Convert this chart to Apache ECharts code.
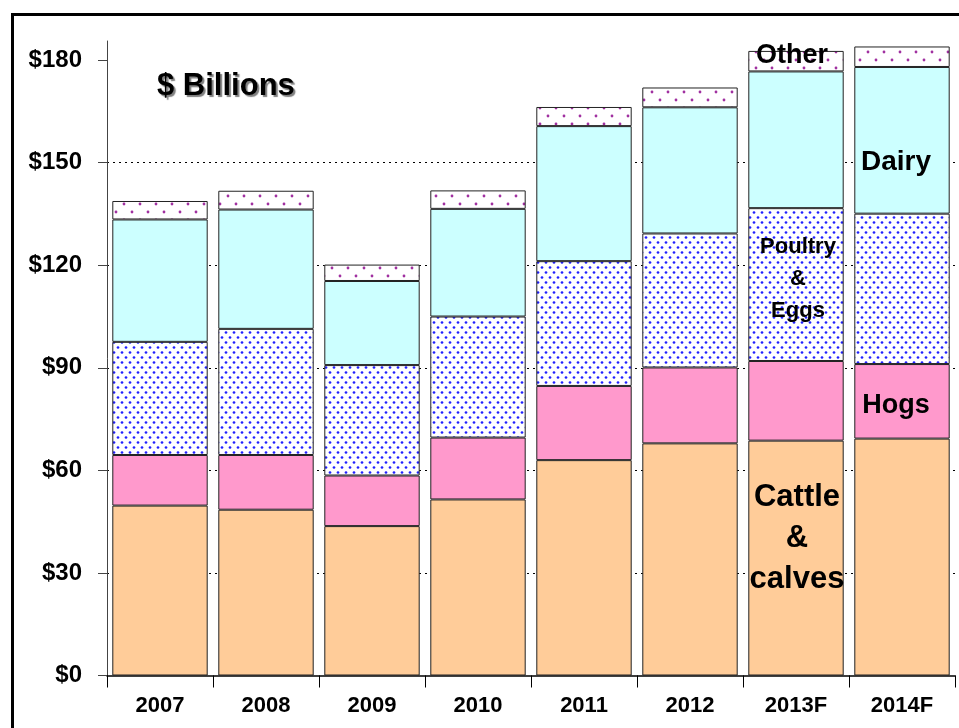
<!DOCTYPE html>
<html>
<head>
<meta charset="utf-8">
<style>html,body{margin:0;padding:0;background:#fff;}#c{width:959px;height:728px;}</style>
<script src="https://cdn.jsdelivr.net/npm/echarts@6/dist/echarts.min.js"></script>
</head>
<body>
<div id="c"></div>
<script>
var categories = ['2007','2008','2009','2010','2011','2012','2013F','2014F'];
var cattle  = [49.7, 48.5, 43.7, 51.5, 63.0, 67.9, 68.7, 69.3];
var hogs    = [14.8, 16.0, 14.8, 18.1, 21.7, 22.2, 23.3, 21.8];
var poultry = [33.1, 36.9, 32.3, 35.4, 36.5, 39.2, 44.7, 44.0];
var dairy   = [35.8, 34.9, 24.6, 31.5, 39.5, 36.9, 40.0, 42.9];
var other   = [5.4, 5.5, 4.8, 5.4, 5.6, 5.8, 6.0, 6.0];
var yTicks  = [0, 30, 60, 90, 120, 150, 180];

var FONT = '"Liberation Sans", Arial, sans-serif';

function dotPattern(w, h, dots, color, r) {
  var cv = document.createElement('canvas');
  cv.width = w; cv.height = h;
  var ctx = cv.getContext('2d');
  ctx.fillStyle = '#fff';
  ctx.fillRect(0, 0, w, h);
  ctx.fillStyle = color;
  dots.forEach(function (d) {
    ctx.beginPath();
    ctx.arc(d[0], d[1], r, 0, Math.PI * 2);
    ctx.fill();
  });
  return { image: cv, repeat: 'repeat' };
}
var poultryFill = dotPattern(8, 10, [[2, 2.5], [6, 7.5]], '#2020ff', 1.35);
var otherFill = dotPattern(16, 16, [[4, 4], [12, 12]], '#a030a0', 1.4);

function withLabel(arr, idx, text, style) {
  return arr.map(function (v, i) {
    if (i !== idx) return v;
    return { value: v, label: Object.assign({ show: true, formatter: text, position: 'inside',
      color: '#000', fontWeight: 'bold', fontFamily: FONT }, style) };
  });
}

var border = { borderColor: '#222', borderWidth: 1 };
var common = { type: 'bar', stack: 'total', barCategoryGap: '10%', clip: false, animation: false };

var chart = echarts.init(document.getElementById('c'), null, { renderer: 'canvas' });
chart.setOption({
  animation: false,
  backgroundColor: '#fff',
  grid: { left: 107, right: 4, top: 41, bottom: 52.5, containLabel: false },
  xAxis: {
    type: 'category',
    data: categories,
    boundaryGap: true,
    axisLine: { lineStyle: { color: '#000', width: 1.5 } },
    axisTick: { show: true, length: 12, lineStyle: { color: '#000' } },
    axisLabel: { color: '#000', fontWeight: 'bold', fontSize: 22, fontFamily: FONT, margin: 19 }
  },
  yAxis: {
    type: 'value',
    min: 0,
    max: 185.6,
    interval: 30,
    axisLine: { show: true, lineStyle: { color: '#444', width: 1 } },
    axisTick: { show: true, inside: false, length: 9, customValues: yTicks, lineStyle: { color: '#444' } },
    axisLabel: { customValues: yTicks, color: '#000', fontWeight: 'bold', fontSize: 24, fontFamily: FONT, margin: 25,
      formatter: function (v) { return '$' + v; } },
    splitLine: { show: true, showMaxLine: false, showMinLine: false, lineStyle: { color: '#000', type: [2, 4], width: 1 } }
  },
  series: [
    Object.assign({ name: 'Cattle & calves', data: withLabel(cattle, 6, 'Cattle\n&\ncalves',
      { fontSize: 31, lineHeight: 41, offset: [1, -20] }),
      itemStyle: Object.assign({ color: '#ffcc99' }, border) }, common),
    Object.assign({ name: 'Hogs', data: withLabel(hogs, 7, 'Hogs', { fontSize: 27, offset: [-6, 4] }),
      itemStyle: Object.assign({ color: '#ff99cc' }, border) }, common),
    Object.assign({ name: 'Poultry & Eggs', data: withLabel(poultry, 6, 'Poultry\n&\nEggs',
      { fontSize: 22, lineHeight: 32, offset: [2, -6] }),
      itemStyle: Object.assign({ color: poultryFill }, border) }, common),
    Object.assign({ name: 'Dairy', data: withLabel(dairy, 7, 'Dairy', { fontSize: 28, offset: [-6, 22] }),
      itemStyle: Object.assign({ color: '#ccffff' }, border) }, common),
    Object.assign({ name: 'Other', data: withLabel(other, 6, 'Other', { fontSize: 27, offset: [-4, -6] }),
      itemStyle: Object.assign({ color: otherFill }, border) }, common)
  ],
  graphic: [
    { type: 'rect', left: 10, top: 12, shape: { x: 0, y: 0, width: 1000, height: 800 },
      style: { fill: 'none', stroke: '#000', lineWidth: 3 }, silent: true, z: 100 },
    { type: 'text', left: 157, top: 71, z: 100,
      style: { text: '$ Billions', fill: '#000', font: 'bold 31px ' + FONT,
        textShadowColor: 'rgba(0,0,0,0.5)', textShadowOffsetX: 2, textShadowOffsetY: 2, textShadowBlur: 1 } }
  ]
});
</script>
</body>
</html>
